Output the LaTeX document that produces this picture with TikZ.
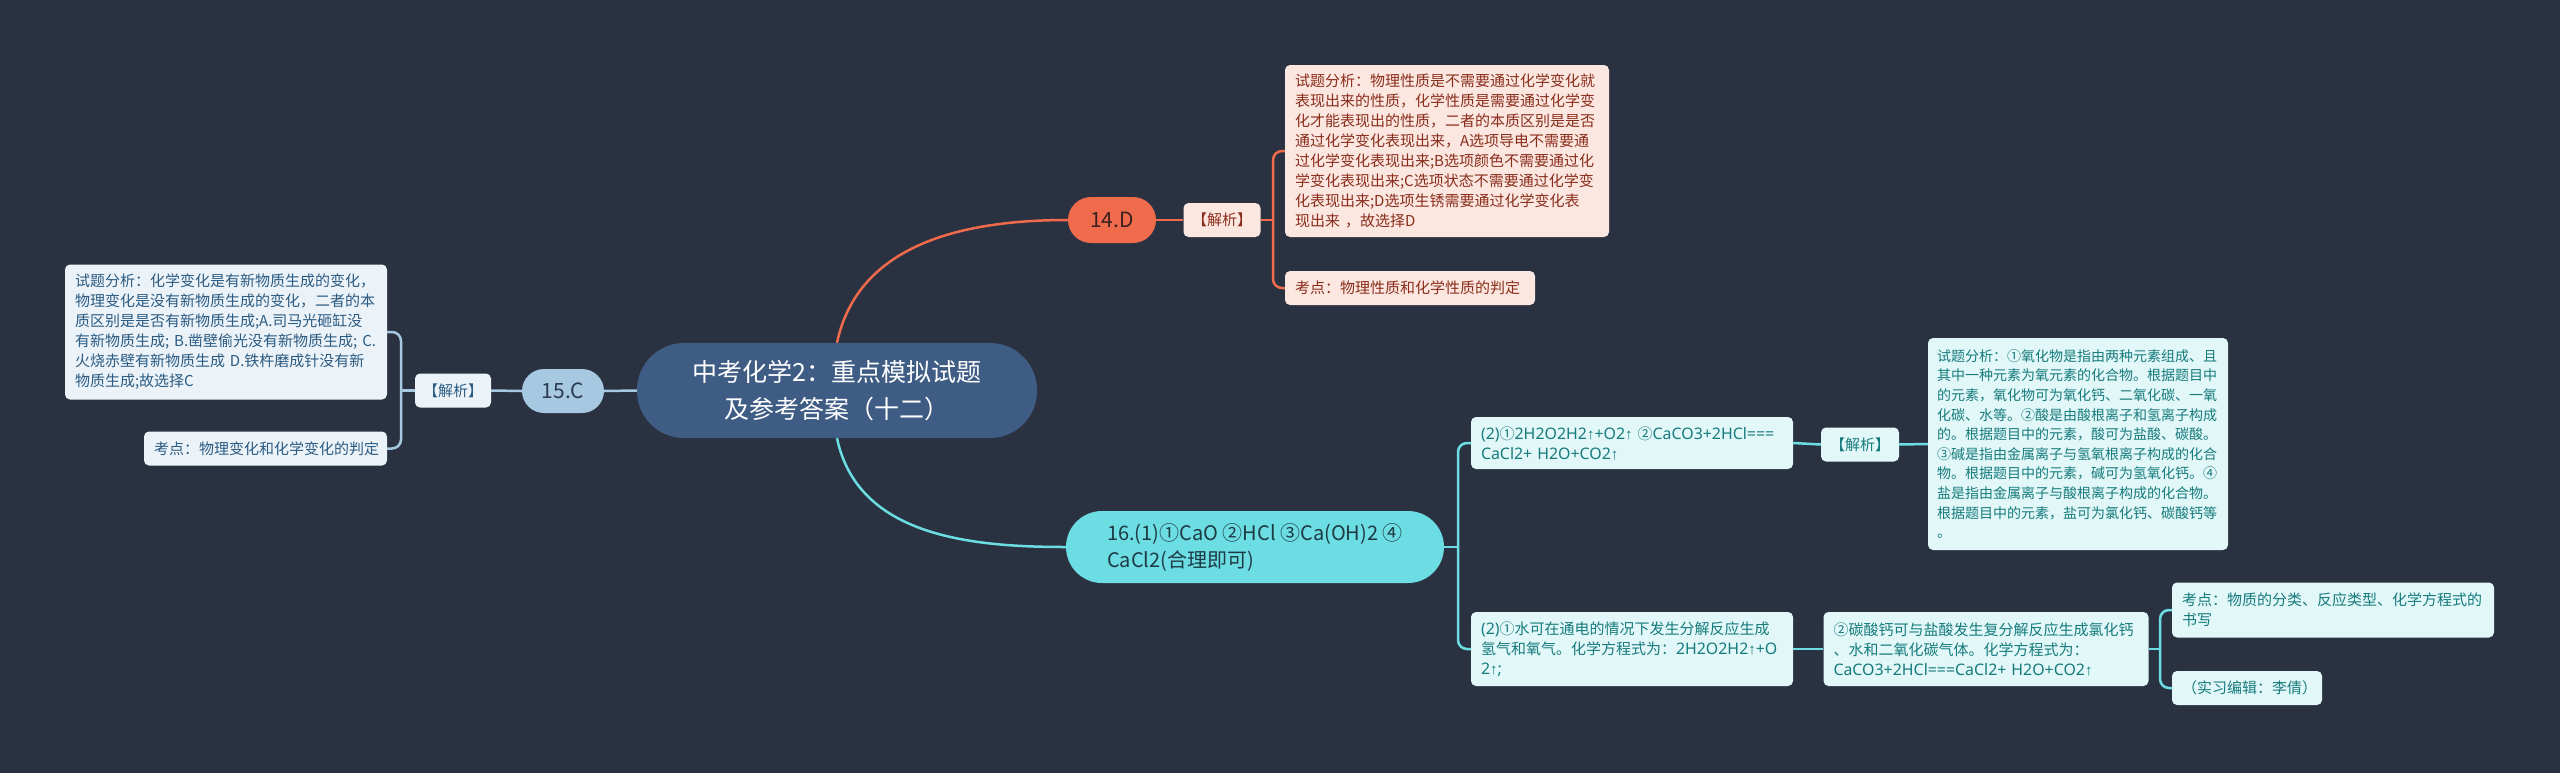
\documentclass[tikz,border=0pt]{standalone}
\usepackage{fontspec}
\setmainfont{Noto Sans CJK SC}
\newfontfamily\arrowfont{Liberation Sans}
\newfontfamily\latf{Noto Sans}[Scale=1.06]
\newcommand{\uparr}{{\arrowfont ↑}}
\newcommand{\lt}[1]{{\latf #1}}
\definecolor{bg}{HTML}{2A3242}
\definecolor{centralfill}{HTML}{3F5D84}
\definecolor{orangec}{HTML}{EF6B4B}
\definecolor{orangetext}{HTML}{3A2020}
\definecolor{pinkfill}{HTML}{FCE6E0}
\definecolor{pinktext}{HTML}{8A2E1C}
\definecolor{bluec}{HTML}{A6C8E0}
\definecolor{bluetext}{HTML}{2B3A4C}
\definecolor{lbluefill}{HTML}{EBF3F9}
\definecolor{lbluetext}{HTML}{2C5B82}
\definecolor{cyanc}{HTML}{6CDDE3}
\definecolor{cyantext}{HTML}{1E3A44}
\definecolor{cyanfill}{HTML}{E2F7F8}
\definecolor{cyanboxtext}{HTML}{167B7D}
\begin{document}
\begin{tikzpicture}[x=1pt,y=-1pt,
  pill/.style={inner sep=0pt, align=center},
  box/.style={rounded corners=5pt, inner xsep=10pt, inner ysep=3pt, align=left,
    font=\fontsize{15}{20}\selectfont},
  pinkbox/.style={box, fill=pinkfill, text=pinktext},
  bluebox/.style={box, fill=lbluefill, text=lbluetext},
  cyanbox/.style={box, fill=cyanfill, text=cyanboxtext},
  oline/.style={draw=orangec, line width=2.5pt, rounded corners=9pt},
  bline/.style={draw=bluec, line width=2.5pt, rounded corners=9pt},
  cline/.style={draw=cyanc, line width=2.5pt, rounded corners=9pt}
]
\useasboundingbox (0,0) rectangle (2560,772);
\fill[bg] (-5,-5) rectangle (2565,777);

% central
\node[pill, fill=centralfill, text=white, rounded corners=47pt,
  minimum width=400pt, minimum height=95pt,
  font=\fontsize{25}{37}\selectfont] (central) at (837,390.5)
  {中考化学2：重点模拟试题\\及参考答案（十二）};

% 14 branch
\node[pill, fill=orangec, text=orangetext, rounded corners=23pt,
  minimum width=88pt, minimum height=46pt, font=\fontsize{21}{25}\selectfont]
  (n14) at (1112,220) {14.D};
\node[pinkbox, align=center, inner xsep=0pt, minimum width=77pt, minimum height=34pt]
  (j14) at (1222,220) {【解析】};
\node[pinkbox, text width=304pt, minimum width=324pt, minimum height=172pt]
  (a14) at (1447,151) {试题分析：物理性质是不需要通过化学变化就\\
表现出来的性质，化学性质是需要通过化学变\\
化才能表现出的性质，二者的本质区别是是否\\
通过化学变化表现出来，A选项导电不需要通\\
过化学变化表现出来;B选项颜色不需要通过化\\
学变化表现出来;C选项状态不需要通过化学变\\
化表现出来;D选项生锈需要通过化学变化表\\
现出来~，故选择D};
\node[pinkbox, text width=230pt, minimum width=250pt, minimum height=34pt]
  (k14) at (1410,288) {考点：物理性质和化学性质的判定};
\coordinate (brk14) at (1273,220);

% 15 branch
\node[pill, fill=bluec, text=bluetext, rounded corners=22pt,
  minimum width=82pt, minimum height=44pt, font=\fontsize{21}{25}\selectfont]
  (n15) at (563,391) {15.C};
\node[bluebox, align=center, inner xsep=0pt, minimum width=76pt, minimum height=34pt]
  (j15) at (453,390.5) {【解析】};
\node[bluebox, text width=302pt, minimum width=322pt, minimum height=135pt]
  (a15) at (226,332) {试题分析：化学变化是有新物质生成的变化，\\
物理变化是没有新物质生成的变化，二者的本\\
质区别是是否有新物质生成;A.司马光砸缸没\\
有新物质生成;~B.凿壁偷光没有新物质生成;~C.\\
火烧赤壁有新物质生成~D.铁杵磨成针没有新\\
物质生成;故选择C};
\node[bluebox, text width=223pt, minimum width=243pt, minimum height=34pt]
  (k15) at (265.5,448.5) {考点：物理变化和化学变化的判定};
\coordinate (brk15) at (401,390.5);

% 16 branch
\node[pill, fill=cyanc, text=cyantext, rounded corners=36pt, align=left,
  minimum width=378pt, minimum height=72pt, font=\fontsize{20}{27}\selectfont]
  (n16) at (1255,547) {16.(1)①CaO ②HCl ③Ca(OH)2 ④\\CaCl2(合理即可)};
\node[cyanbox, text width=302pt, minimum width=322pt, minimum height=52pt]
  (b1) at (1632,443) {\lt{(2)}①\lt{2H2O2H2}\uparr\lt{+O2}\uparr~②\lt{CaCO3+2HCl===}\\\lt{CaCl2+~H2O+CO2}\uparr};
\node[cyanbox, align=center, inner xsep=0pt, minimum width=78pt, minimum height=34pt]
  (j16) at (1860,444.5) {【解析】};
\node[cyanbox, text width=282pt, minimum width=300pt, minimum height=212pt,
  inner xsep=9pt, font=\fontsize{14}{19.6}\selectfont]
  (a16) at (2078,444) {试题分析：①氧化物是指由两种元素组成、且\\
其中一种元素为氧元素的化合物。根据题目中\\
的元素，氧化物可为氧化钙、二氧化碳、一氧\\
化碳、水等。②酸是由酸根离子和氢离子构成\\
的。根据题目中的元素，酸可为盐酸、碳酸。\\
③碱是指由金属离子与氢氧根离子构成的化合\\
物。根据题目中的元素，碱可为氢氧化钙。④\\
盐是指由金属离子与酸根离子构成的化合物。\\
根据题目中的元素，盐可为氯化钙、碳酸钙等\\
。};
\node[cyanbox, text width=302pt, minimum width=322pt, minimum height=74pt]
  (b2) at (1632,649) {\lt{(2)}①水可在通电的情况下发生分解反应生成\\
氢气和氧气。化学方程式为：\lt{2H2O2H2}\uparr\lt{+O}\\
\lt{2}\uparr\lt{;}};
\node[cyanbox, text width=305pt, minimum width=325pt, minimum height=74pt]
  (c2) at (1986,649) {②碳酸钙可与盐酸发生复分解反应生成氯化钙\\
、水和二氧化碳气体。化学方程式为：\\
\lt{CaCO3+2HCl===CaCl2+~H2O+CO2}\uparr};
\node[cyanbox, text width=302pt, minimum width=322pt, minimum height=55pt]
  (k16) at (2333,610) {考点：物质的分类、反应类型、化学方程式的\\书写};
\node[cyanbox, text width=130pt, minimum width=150pt, minimum height=34pt]
  (e16) at (2247,688) {（实习编辑：李倩）};
\coordinate (brk16) at (1458,547);
\coordinate (brkc) at (2160,649);

% connectors
\draw[oline, rounded corners=0pt] (central.north) to[out=78,in=180] (n14.west);
\draw[cline, rounded corners=0pt] (central.south) to[out=-78,in=180] (n16.west);
\draw[bline] (central.west) -- (n15.east);

\draw[oline] (n14.east) -- (j14.west);
\draw[oline] (j14.east) -- (brk14);
\draw[oline] (a14.west) -| (brk14) |- (k14.west);

\draw[bline] (n15.west) -- (j15.east);
\draw[bline] (j15.west) -- (brk15);
\draw[bline] (a15.east) -| (brk15) |- (k15.east);

\draw[cline] (n16.east) -- (brk16);
\draw[cline] (b1.west) -| (brk16) |- (b2.west);
\draw[cline] (b1.east) -- (j16.west);
\draw[cline] (j16.east) -- (a16.west);
\draw[cline] (b2.east) -- (c2.west);
\draw[cline] (c2.east) -- (brkc);
\draw[cline] (k16.west) -| (brkc) |- (e16.west);
\end{tikzpicture}
\end{document}
